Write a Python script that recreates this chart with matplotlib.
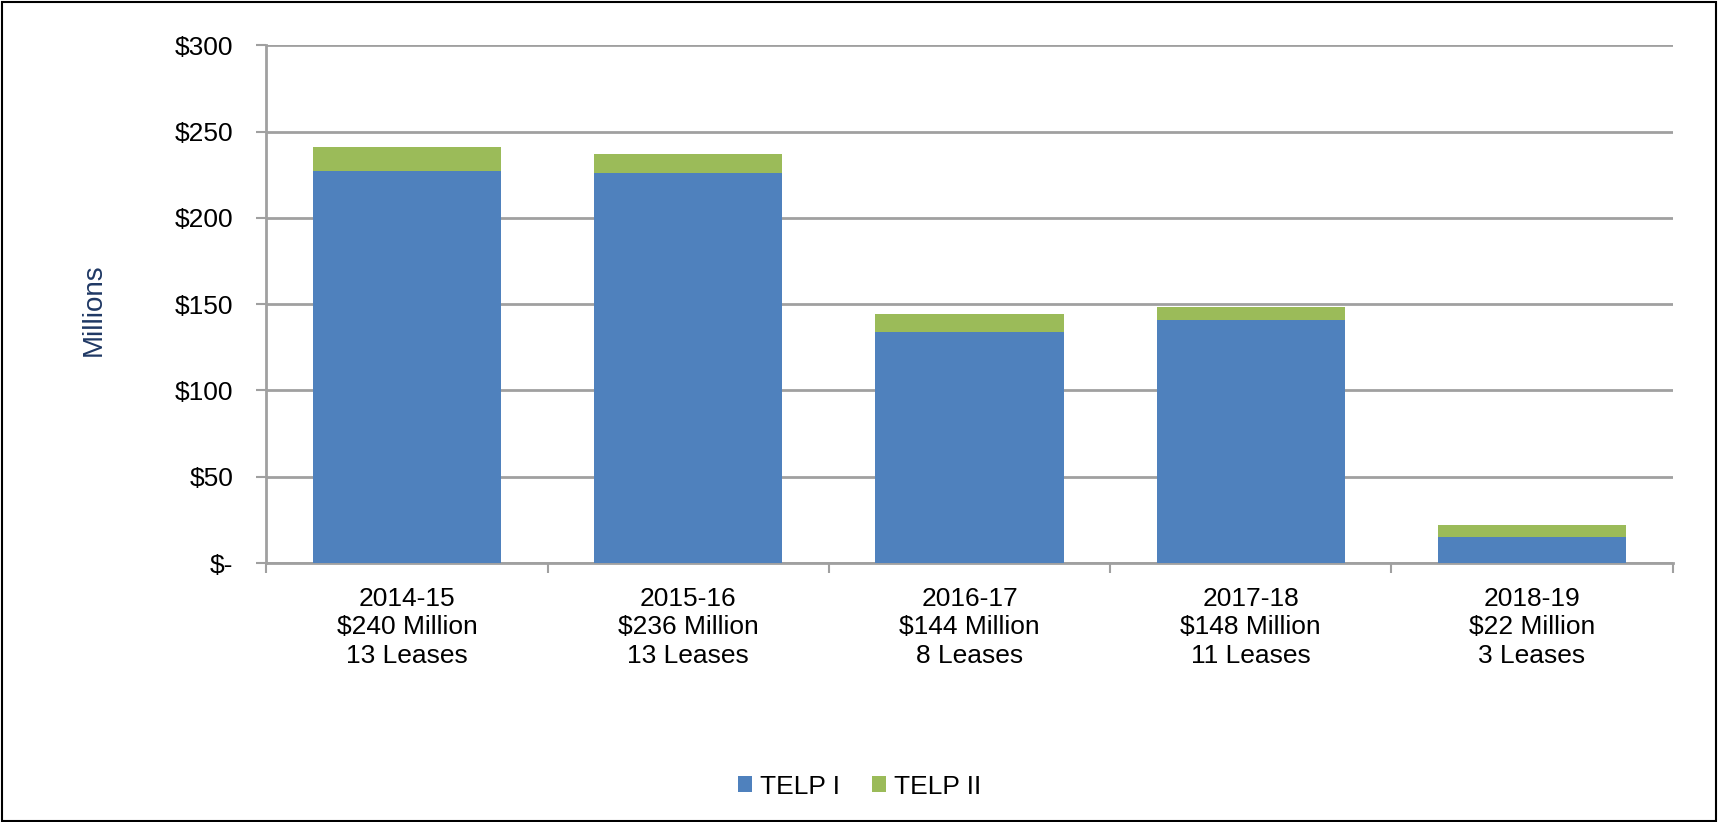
import matplotlib.pyplot as plt
from matplotlib.patches import Rectangle
import numpy as np

plt.rcParams['font.family'] = ['Liberation Sans', 'DejaVu Sans']

years = ['2014-15', '2015-16', '2016-17', '2017-18', '2018-19']
totals = ['$240 Million', '$236 Million', '$144 Million', '$148 Million', '$22 Million']
leases = ['13 Leases', '13 Leases', '8 Leases', '11 Leases', '3 Leases']
telp1 = [227, 226, 134, 141, 15]
telp2 = [14, 11, 10, 7.5, 7]

blue = '#4F81BD'
green = '#9BBB59'
grid = '#A0A0A0'

fig = plt.figure(figsize=(17.19, 8.22), dpi=100)
ax = fig.add_axes([0.155, 0.315, 0.818, 0.630])

x = np.arange(len(years))
labels = [f'{a}\n{b}\n{c}' for a, b, c in zip(years, totals, leases)]
ax.bar(x, telp1, width=0.67, color=blue, label='TELP I', zorder=3)
ax.bar(x, telp2, width=0.67, bottom=telp1, color=green, label='TELP II', zorder=3)

ax.set_xlim(-0.5, len(years) - 0.5)
ax.set_ylim(0, 300)
ax.set_yticks(range(0, 301, 50))
ax.set_yticklabels(['$-'] + [f'${v}' for v in range(50, 301, 50)])
ax.set_xticks(x)
ax.set_xticklabels(labels, linespacing=1.25)
ax.set_xticks(np.arange(-0.5, len(years), 1), minor=True)
ax.tick_params(axis='x', which='major', length=0, pad=17, labelsize=19)
ax.tick_params(axis='x', which='minor', length=7, width=1.5, color=grid, direction='out')
ax.tick_params(axis='y', length=7, width=1.5, color=grid, direction='out', labelsize=19, pad=17)

ax.grid(axis='y', color=grid, linewidth=2, zorder=0)
for s in ['top', 'right']:
    ax.spines[s].set_visible(False)
for s in ['left', 'bottom']:
    ax.spines[s].set_color(grid)
    ax.spines[s].set_linewidth(2)

ax.set_ylabel('Millions', fontsize=20, color='#1F3864')
ax.yaxis.set_label_coords(-0.1135, 0.49)

fig.legend(loc='center', bbox_to_anchor=(0.5, 0.043), ncol=2, frameon=False,
           fontsize=19, handlelength=0.55, handleheight=0.55, handletextpad=0.3,
           columnspacing=1.2)

fig.patches.append(Rectangle((0.001, 0.001), 0.997, 0.997, transform=fig.transFigure,
                             fill=False, edgecolor='black', linewidth=1.5))

plt.savefig('out.png', dpi=100)
